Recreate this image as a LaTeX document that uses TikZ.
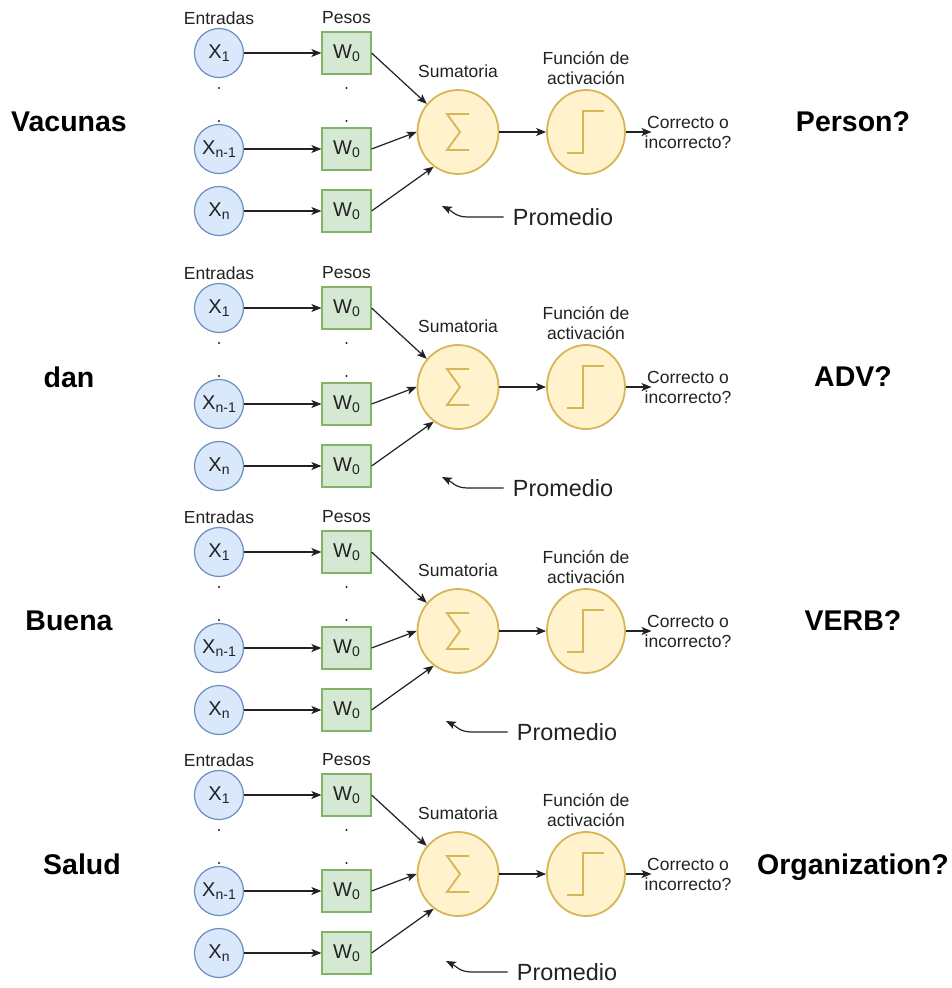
\documentclass[tikz,border=0pt]{standalone}
\usepackage{fontspec}
\setmainfont{Liberation Sans}
\usetikzlibrary{arrows.meta,shapes.geometric}
\definecolor{bfill}{HTML}{DAE8FC}
\definecolor{bdraw}{HTML}{6C8EBF}
\definecolor{gfill}{HTML}{D5E8D4}
\definecolor{gdraw}{HTML}{82B366}
\definecolor{yfill}{HTML}{FFF2CC}
\definecolor{ydraw}{HTML}{D6B656}
\definecolor{ink}{HTML}{222222}
\newcommand\lowsub[1]{\raisebox{-3.5pt}{\fontsize{14}{14}\selectfont #1}}
\tikzset{
  inp/.style={circle, draw=bdraw, fill=bfill, line width=1.2pt, minimum size=49pt, inner sep=0pt,
    font=\fontsize{20}{24}\selectfont, text=ink},
  wbox/.style={rectangle, draw=gdraw, fill=gfill, line width=1.2pt, minimum width=49pt,
    minimum height=42pt, inner sep=0pt, font=\fontsize{20}{24}\selectfont, text=ink},
  sumc/.style={ellipse, draw=ydraw, fill=yfill, line width=1.8pt, minimum width=81pt,
    minimum height=84pt, inner sep=0pt},
  actc/.style={ellipse, draw=ydraw, fill=yfill, line width=1.8pt, minimum width=78pt,
    minimum height=84pt, inner sep=0pt},
  small/.style={font=\fontsize{17.5}{20}\selectfont, text=ink, align=center, inner sep=0pt},
  big/.style={font=\fontsize{28.5}{32}\selectfont\bfseries, text=black, inner sep=0pt, text depth=0pt},
  prom/.style={font=\fontsize{23.4}{26}\selectfont, text=ink, inner sep=0pt},
  arr/.style={-{Stealth[length=10pt,width=8pt,inset=2.5pt]}, line width=1.2pt, draw=ink},
  glyph/.style={draw=ydraw, line width=1.8pt}
}
% #1 prefix, #2 y of x1, #3 word, #4 word x, #5 tag, #6 promedio dy from sum, #7 promedio x
\newcommand\neurblock[7]{%
  \node[small] (#1el) at (219,#2-35) {Entradas};
  \node[small] (#1pl) at (346.5,#2-35) {Pesos};
  \node[inp] (#1x1) at (219,#2) {X\lowsub{1}};
  \node[inp] (#1x2) at (219,#2+96) {X\lowsub{n-1}};
  \node[inp] (#1x3) at (219,#2+158) {X\lowsub{n}};
  \node[wbox] (#1w1) at (346.5,#2) {W\lowsub{0}};
  \node[wbox] (#1w2) at (346.5,#2+96) {W\lowsub{0}};
  \node[wbox] (#1w3) at (346.5,#2+158) {W\lowsub{0}};
  \fill[ink] (219,#2+35) circle (1.2pt);
  \fill[ink] (219,#2+68) circle (1.2pt);
  \fill[ink] (346.5,#2+35) circle (1.2pt);
  \fill[ink] (346.5,#2+68) circle (1.2pt);
  \node[sumc] (#1s) at (458,#2+79) {};
  \node[actc] (#1a) at (586,#2+79) {};
  \node[small] (#1sl) at (458,#2+79-61) {Sumatoria};
  \node[small] (#1fl) at (586,#2+79-63.5) {Función de\\activación};
  \node[small] (#1o) at (688,#2+79) {Correcto o\\incorrecto?};
  \node[big] (#1wl) at (#4,#2+79-10) {#3};
  \node[big] (#1tl) at (853,#2+79-10) {#5};
  \draw[glyph] ([shift={(11,-18)}]#1s.center) -- ++(-22,0) -- ++(13,18) -- ++(-13,18) -- ++(22,0);
  \draw[glyph] ([shift={(-19,21)}]#1a.center) -- ++(16,0) -- ++(0,-42) -- ++(21,0);
  \draw[arr] (#1x1) -- (#1w1);
  \draw[arr] (#1x2) -- (#1w2);
  \draw[arr] (#1x3) -- (#1w3);
  \draw[arr] (#1w1.east) -- (#1s.138);
  \draw[arr] (#1w2.east) -- (#1s.180);
  \draw[arr] (#1w3.east) -- (#1s.235);
  \draw[arr] (#1s) -- (#1a);
  \draw[arr] (#1a) -- ([xshift=7pt]#1o.west);
  \node[prom] (#1p) at (#7,#2+79+#6) {Promedio};
  \coordinate (#1t) at ([shift={(-121,-11)}]#1p.center);
  \draw[arr] ([xshift=-9pt]#1p.west) -- ++(-36,0) .. controls +(-12,0) and +(10,5) .. (#1t);
}
\begin{document}
\begin{tikzpicture}[x=1pt,y=-1pt]
  \fill[white] (0,0) rectangle (952,988);
  \useasboundingbox (0,0) rectangle (952,988);
  \neurblock{a}{53}{Vacunas}{69}{Person?}{85}{563}
  \neurblock{b}{308}{dan}{69}{ADV?}{101}{563}
  \neurblock{c}{552}{Buena}{69}{VERB?}{101}{567}
  \neurblock{d}{795}{Salud}{82}{Organization?}{98}{567}
\end{tikzpicture}
\end{document}
